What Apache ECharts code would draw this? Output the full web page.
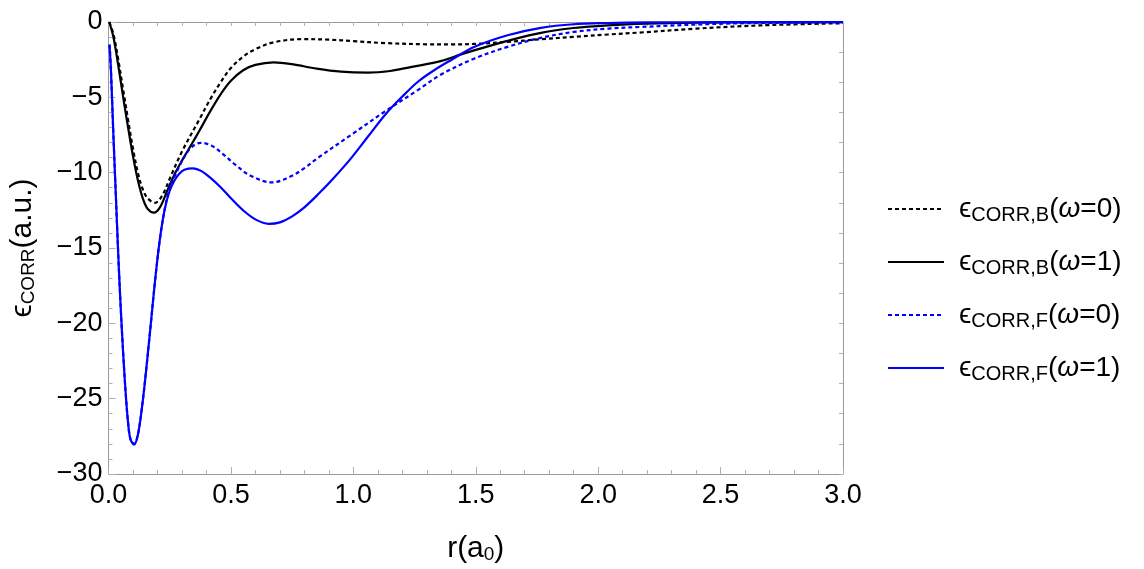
<!DOCTYPE html>
<html>
<head>
<meta charset="utf-8">
<title>correlation energy</title>
<script src="https://cdn.jsdelivr.net/npm/echarts@6/dist/echarts.min.js"></script>
<style>
  html, body { margin: 0; padding: 0; background: #fff; }
  #chart { width: 1144px; height: 569px; }
</style>
</head>
<body>
<div id="chart"></div>
<script>
// eps_CORR,B (omega=0) - black dotted
var rB0 = [0.003, 0.02, 0.04, 0.06, 0.08, 0.10, 0.12, 0.14, 0.16, 0.19, 0.22, 0.25, 0.30, 0.37, 0.42, 0.46, 0.5, 0.55, 0.6, 0.674, 0.79, 0.9, 1.0, 1.13, 1.3, 1.4, 1.5, 1.63, 1.766, 1.9, 2.04, 2.17, 2.4, 2.67, 3.0];
var eB0 = [0, -0.8, -2.5, -4.5, -6.5, -8.4, -10.0, -11.1, -11.7, -12.0, -11.5, -10.4, -8.6, -6.5, -5.0, -3.95, -3.05, -2.3, -1.8, -1.35, -1.14, -1.17, -1.27, -1.4, -1.48, -1.49, -1.45, -1.32, -1.14, -0.99, -0.83, -0.70, -0.44, -0.22, -0.08];

// eps_CORR,B (omega=1) - black solid
var rB1 = [0.003, 0.02, 0.04, 0.06, 0.08, 0.10, 0.12, 0.14, 0.16, 0.186, 0.21, 0.24, 0.27, 0.30, 0.34, 0.37, 0.42, 0.46, 0.5, 0.55, 0.6, 0.674, 0.75, 0.85, 0.95, 1.06, 1.15, 1.25, 1.36, 1.44, 1.5, 1.63, 1.766, 1.9, 2.04, 2.2, 2.4, 2.7, 3.0];
var eB1 = [0, -1.0, -2.9, -5.0, -7.0, -8.9, -10.5, -11.7, -12.4, -12.65, -12.3, -11.2, -10.1, -9.2, -8.1, -7.25, -5.8, -4.75, -3.9, -3.2, -2.85, -2.68, -2.8, -3.1, -3.3, -3.36, -3.25, -2.95, -2.58, -2.15, -1.85, -1.25, -0.72, -0.4, -0.22, -0.11, -0.05, -0.02, 0];

// eps_CORR,F (omega=0) - blue dotted
var rF0 = [0.004, 0.01, 0.02, 0.03, 0.04, 0.05, 0.06, 0.07, 0.08, 0.09, 0.105, 0.12, 0.135, 0.15, 0.17, 0.19, 0.21, 0.23, 0.25, 0.28, 0.308, 0.34, 0.376, 0.42, 0.47, 0.52, 0.58, 0.667, 0.75, 0.8, 0.857, 0.993, 1.13, 1.265, 1.36, 1.495, 1.63, 1.766, 1.9, 2.04, 2.17, 2.54, 3.0];
var eF0 = [-1.5, -3.2, -7.5, -11.5, -15.5, -19.0, -22.0, -24.6, -26.6, -27.7, -28.0, -27.4, -25.8, -23.7, -20.5, -17.2, -14.4, -12.4, -11.0, -9.9, -9.0, -8.3, -8.02, -8.2, -8.8, -9.5, -10.2, -10.65, -10.2, -9.7, -9.0, -7.47, -5.93, -4.5, -3.47, -2.42, -1.65, -1.05, -0.66, -0.44, -0.33, -0.1, -0.02];

// eps_CORR,F (omega=1) - blue solid
var rF1 = [0.004, 0.01, 0.02, 0.03, 0.04, 0.05, 0.06, 0.07, 0.08, 0.09, 0.105, 0.12, 0.135, 0.15, 0.17, 0.19, 0.21, 0.23, 0.25, 0.27, 0.29, 0.31, 0.345, 0.38, 0.42, 0.46, 0.5, 0.55, 0.6, 0.654, 0.7, 0.75, 0.8, 0.857, 0.92, 0.993, 1.06, 1.13, 1.2, 1.265, 1.33, 1.40, 1.495, 1.63, 1.766, 1.9, 2.04, 2.2, 2.5, 3.0];
var eF1 = [-1.5, -3.2, -7.5, -11.5, -15.5, -19.0, -22.0, -24.6, -26.6, -27.7, -28.05, -27.4, -25.8, -23.7, -20.5, -17.2, -14.4, -12.4, -11.2, -10.5, -10.05, -9.8, -9.71, -9.9, -10.4, -11.0, -11.7, -12.5, -13.1, -13.4, -13.3, -12.9, -12.3, -11.42, -10.35, -9.0, -7.6, -6.15, -4.95, -3.95, -3.2, -2.52, -1.65, -0.88, -0.39, -0.15, -0.07, -0.03, -0.01, 0];

var legendLabels = {
    B0: '{e|ϵ}{s|CORR,B}{t|(}{w|ω}{t|=0)}',
    B1: '{e|ϵ}{s|CORR,B}{t|(}{w|ω}{t|=1)}',
    F0: '{e|ϵ}{s|CORR,F}{t|(}{w|ω}{t|=0)}',
    F1: '{e|ϵ}{s|CORR,F}{t|(}{w|ω}{t|=1)}'
};

var font = "'Liberation Sans', Arial, sans-serif";
var frameColor = '#9a9a9a';
var tickColor = '#b0b0b0';

function pairs(r, e) {
    return r.map(function (x, i) { return [x, e[i]]; });
}
function minus(v) {
    return String(v).replace('-', '\u2212');
}

var richText = {
    e: { fontSize: 28, fontFamily: font, color: '#000', padding: [0, 0, 0, 10] },
    s: { fontSize: 20, fontFamily: font, color: '#000', padding: [12, 0, 0, 0] },
    t: { fontSize: 28, fontFamily: font, color: '#000' },
    w: { fontSize: 28, fontFamily: font, color: '#000', fontStyle: 'italic' }
};
var nameRich = {
    e: { fontSize: 30, fontFamily: font, color: '#000' },
    s: { fontSize: 19, fontFamily: font, color: '#000', padding: [12, 0, 0, 0] },
    t: { fontSize: 30, fontFamily: font, color: '#000' }
};

var chart = echarts.init(document.getElementById('chart'));

function lineSeries(name, data, color, dashed) {
    return {
        name: name,
        type: 'line',
        data: data,
        smooth: 0.35,
        symbol: 'none',
        animation: false,
        lineStyle: { color: color, width: 2.2, type: dashed ? [4, 3] : 'solid' },
        itemStyle: { color: color }
    };
}

var option = {
    backgroundColor: '#fff',
    animation: false,
    grid: { left: 106, top: 22, right: 301, bottom: 92, containLabel: false },
    legend: {
        orient: 'vertical',
        left: 882,
        top: 188,
        itemWidth: 56,
        itemHeight: 14,
        itemGap: 21,
        data: ['B0', 'B1', 'F0', 'F1'],
        formatter: function (n) { return legendLabels[n]; },
        itemStyle: { color: 'rgba(0,0,0,0)', borderColor: 'rgba(0,0,0,0)', borderWidth: 0 },
        textStyle: { rich: richText, lineHeight: 32 }
    },
    xAxis: [{
        type: 'value',
        min: 0, max: 3, interval: 0.5,
        name: '{t|r(a}{s|0}{t|)}',
        nameLocation: 'middle',
        nameGap: 59,
        nameTextStyle: { rich: nameRich },
        axisLine: { show: true, onZero: false, lineStyle: { color: frameColor, width: 1 } },
        axisTick: { show: true, inside: true, length: 7, lineStyle: { color: tickColor } },
        minorTick: { show: true, splitNumber: 5, length: 4, lineStyle: { color: tickColor } },
        splitLine: { show: false },
        axisLabel: {
            fontSize: 27, fontFamily: font, color: '#000', margin: 8,
            formatter: function (v) { return v.toFixed(1); }
        }
    }, {
        type: 'value',
        position: 'top',
        min: 0, max: 3, interval: 0.1,
        axisLine: { show: true, onZero: false, lineStyle: { color: frameColor, width: 1 } },
        axisTick: { show: true, inside: true, length: 4, lineStyle: { color: tickColor } },
        splitLine: { show: false },
        axisLabel: { show: false }
    }],
    yAxis: [{
        type: 'value',
        min: -30, max: 0, interval: 5,
        name: '{e|ϵ}{s|CORR}{t|(a.u.)}',
        nameLocation: 'middle',
        nameRotate: 90,
        nameGap: 70,
        nameTextStyle: { rich: nameRich },
        axisLine: { show: true, onZero: false, lineStyle: { color: frameColor, width: 1 } },
        axisTick: { show: true, inside: true, length: 7, lineStyle: { color: tickColor } },
        minorTick: { show: true, splitNumber: 5, length: 4, lineStyle: { color: tickColor } },
        splitLine: { show: false },
        axisLabel: {
            fontSize: 27, fontFamily: font, color: '#000', margin: 6,
            formatter: function (v) { return minus(v); }
        }
    }, {
        type: 'value',
        position: 'right',
        min: -30, max: 0, interval: 2,
        axisLine: { show: true, onZero: false, lineStyle: { color: frameColor, width: 1 } },
        axisTick: { show: true, inside: true, length: 4, lineStyle: { color: tickColor } },
        splitLine: { show: false },
        axisLabel: { show: false }
    }],
    series: [
        lineSeries('B0', pairs(rB0, eB0), '#000000', true),
        lineSeries('B1', pairs(rB1, eB1), '#000000', false),
        lineSeries('F0', pairs(rF0, eF0), '#0000ff', true),
        lineSeries('F1', pairs(rF1, eF1), '#0000ff', false)
    ]
};

chart.setOption(option);
</script>
</body>
</html>
